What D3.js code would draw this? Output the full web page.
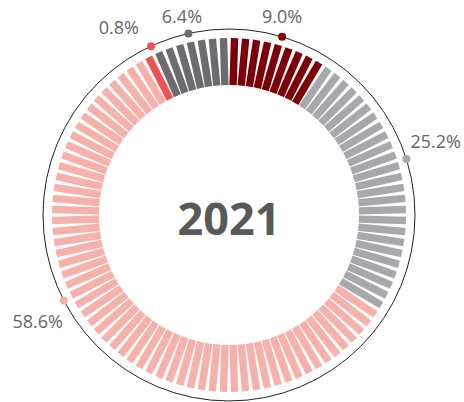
<!DOCTYPE html>
<html>
<head>
<meta charset="utf-8">
<script src="https://cdn.jsdelivr.net/npm/d3@7"></script>
<style>
  html, body { margin: 0; padding: 0; background: #fff; }
  svg { display: block; }
  text { font-family: "Open Sans", "Noto Sans", sans-serif; }
</style>
</head>
<body>
<svg id="chart" width="464" height="402"></svg>
<script>
// ---- data ----
const categories = ["c1", "c2", "c3", "c4", "c5"];
const values = [9.0, 25.2, 58.6, 0.8, 6.4];
const labels = ["9.0%", "25.2%", "58.6%", "0.8%", "6.4%"];
const colors = ["#7c0008", "#a7a8ab", "#f7b1ab", "#ef5350", "#6b6c70"];
const centerTitle = "2021";
const barCount = 100;

// ---- layout ----
const W = 464, H = 402;
const cx = 229, cy = 215;
const rInner = 130, rOuter = 177, rRing = 186;
const barWidth = 7.4;
// annotation anchor angles (degrees, clockwise from 12 o'clock) and label placement
const labelAnchorDeg = [16.6, 72.5, 242.6, -24.8, -12.6];
const labelPlace = [
  { anchor: "middle", dx: 0, dy: -14 },
  { anchor: "start", dx: 4, dy: -11 },
  { anchor: "end", dx: -1, dy: 27 },
  { anchor: "end", dx: -12, dy: -12.5 },
  { anchor: "middle", dx: -6.5, dy: -10 }
];

const svg = d3.select("#chart");
const g = svg.append("g").attr("transform", `translate(${cx},${cy})`);

// cumulative ends
const cum = [];
values.reduce((a, v, i) => (cum[i] = a + v, a + v), 0);
const total = cum[cum.length - 1];

const angle = d3.scaleLinear().domain([0, barCount]).range([0, 360]);
const color = d3.scaleOrdinal().domain(categories).range(colors);

const bars = d3.range(barCount).map(i => {
  const pos = (i + 1) / barCount * total;
  let k = cum.findIndex(c => pos <= c + 1e-9);
  if (k < 0) k = cum.length - 1;
  return { i, cat: categories[k] };
});

// outer thin ring
g.append("circle")
  .attr("r", rRing)
  .attr("fill", "none")
  .attr("stroke", "#222")
  .attr("stroke-width", 1);

// bars
g.append("g").selectAll("rect")
  .data(bars)
  .join("rect")
  .attr("x", -barWidth / 2)
  .attr("y", -rOuter)
  .attr("width", barWidth)
  .attr("height", rOuter - rInner)
  .attr("fill", d => color(d.cat))
  .attr("transform", d => `rotate(${angle(d.i + 0.5)})`);

// label dots and text
const ann = g.append("g");
categories.forEach((c, k) => {
  const a = labelAnchorDeg[k] * Math.PI / 180;
  const x = rRing * Math.sin(a), y = -rRing * Math.cos(a);
  ann.append("circle")
    .attr("cx", x).attr("cy", y).attr("r", 4)
    .attr("fill", color(c));
  ann.append("text")
    .attr("x", x + labelPlace[k].dx)
    .attr("y", y + labelPlace[k].dy)
    .attr("text-anchor", labelPlace[k].anchor)
    .attr("font-size", 18)
    .attr("fill", "#666")
    .text(labels[k]);
});

// center title
g.append("text")
  .attr("x", 0)
  .attr("y", 20)
  .attr("text-anchor", "middle")
  .attr("font-size", 45)
  .attr("font-weight", "bold")
  .attr("fill", "#595959")
  .text(centerTitle);
</script>
</body>
</html>
